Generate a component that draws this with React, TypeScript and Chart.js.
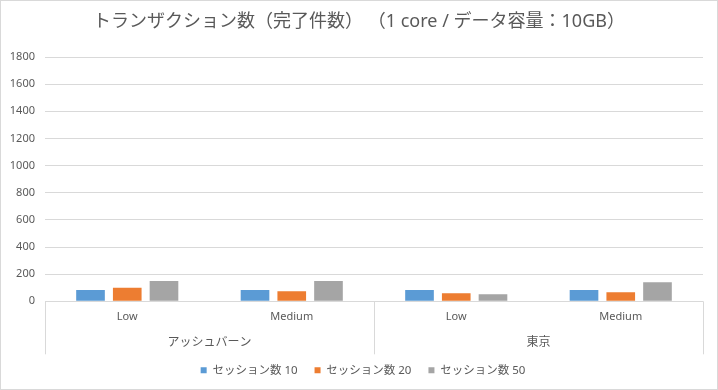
import React, { useEffect, useRef } from 'react';
import { Chart, registerables } from 'chart.js';

Chart.register(...registerables);

const titleText = 'トランザクション数（完了件数） （1 core / データ容量：10GB）';
const categories = ['Low', 'Medium', 'Low', 'Medium'];
const groups = ['アッシュバーン', '東京'];
const seriesNames = ['セッション数 10', 'セッション数 20', 'セッション数 50'];
const session10 = [83, 83, 83, 83];
const session20 = [99, 74, 60, 67];
const session50 = [149, 149, 52, 141];
const seriesColors = ['#5b9bd5', '#ed7d31', '#a5a5a5'];
const yMin = 0;
const yMax = 1800;
const yStep = 200;

const FONT = "'Noto Sans', 'Noto Sans CJK JP', sans-serif";
const TEXT = '#595959';
const GRID = '#d9d9d9';

const separatorPlugin = {
  id: 'separators',
  afterLayout(chart: any) {
    const lg = chart.legend;
    if (lg) {
      lg.left += 4;
      lg.right += 4;
    }
  },
  afterDraw(chart: any) {
    const { ctx, chartArea, scales } = chart;
    const xs = scales.x;
    const mid = (xs.getPixelForValue(1) + xs.getPixelForValue(2)) / 2;
    ctx.save();
    ctx.strokeStyle = GRID;
    ctx.lineWidth = 1;
    [chartArea.left, mid, chartArea.right].forEach((px: number) => {
      const xx = Math.round(px) + 0.5;
      ctx.beginPath();
      ctx.moveTo(xx, chartArea.bottom);
      ctx.lineTo(xx, chartArea.bottom + 53);
      ctx.stroke();
    });
    ctx.restore();
  },
};

export default function App() {
  const ref = useRef<HTMLCanvasElement | null>(null);

  useEffect(() => {
    if (!ref.current) return;
    const allSeries = [session10, session20, session50];
    const chart = new Chart(ref.current, {
      type: 'bar',
      data: {
        labels: categories,
        datasets: allSeries.map((d, i) => ({
          label: seriesNames[i],
          data: d,
          backgroundColor: seriesColors[i],
          borderWidth: 0,
          barPercentage: 0.78,
          categoryPercentage: 0.67,
          xAxisID: 'x',
          yAxisID: 'y',
        })),
      },
      options: {
        responsive: false,
        animation: false,
        layout: { padding: { left: 0, right: 0, top: 0, bottom: 3 } },
        font: { family: FONT },
        plugins: {
          title: {
            display: true,
            text: titleText,
            color: TEXT,
            font: { family: FONT, size: 18, weight: 'normal' },
            padding: { top: 10, bottom: 24.4 },
          },
          legend: {
            display: true,
            position: 'bottom',
            labels: {
              color: TEXT,
              font: { family: FONT, size: 11.5 },
              boxWidth: 6,
              boxHeight: 6,
              padding: 17,
            },
          },
          tooltip: { enabled: false },
        },
        scales: {
          x: {
            type: 'category',
            position: 'bottom',
            offset: true,
            grid: { display: false, drawTicks: false },
            border: { display: false },
            ticks: {
              color: TEXT,
              font: { family: FONT, size: 11 },
              padding: 9,
              maxRotation: 0,
              autoSkip: false,
            },
            afterFit: (s: any) => {
              s.height = 29;
            },
          },
          g: {
            type: 'category',
            position: 'bottom',
            weight: 1,
            labels: groups,
            offset: true,
            grid: { display: false, drawTicks: false },
            border: { display: false },
            ticks: {
              color: TEXT,
              font: { family: FONT, size: 12 },
              padding: 5,
              maxRotation: 0,
              autoSkip: false,
            },
            afterFit: (s: any) => {
              s.height = 17.2;
            },
          },
          y: {
            type: 'linear',
            position: 'left',
            min: yMin,
            max: yMax,
            grid: { color: GRID, drawTicks: false, lineWidth: 1 },
            border: { display: false },
            ticks: {
              stepSize: yStep,
              color: TEXT,
              font: { family: FONT, size: 11 },
              padding: 10,
              callback: (v: any) => String(v),
            },
            afterFit: (s: any) => {
              s.width = 44;
            },
          },
          r: {
            type: 'linear',
            position: 'right',
            display: true,
            grid: { display: false, drawTicks: false },
            border: { display: false },
            ticks: { display: false },
            afterFit: (s: any) => {
              s.width = 14;
            },
          },
        },
      } as any,
      plugins: [separatorPlugin],
    });
    return () => chart.destroy();
  }, []);

  return (
    <div
      style={{
        position: 'fixed',
        left: 0,
        top: 0,
        width: 718,
        height: 390,
        border: `1px solid ${GRID}`,
        boxSizing: 'border-box',
        background: '#ffffff',
      }}
    >
      <canvas ref={ref} width={716} height={388} style={{ display: 'block', width: 716, height: 388 }} />
    </div>
  );
}
